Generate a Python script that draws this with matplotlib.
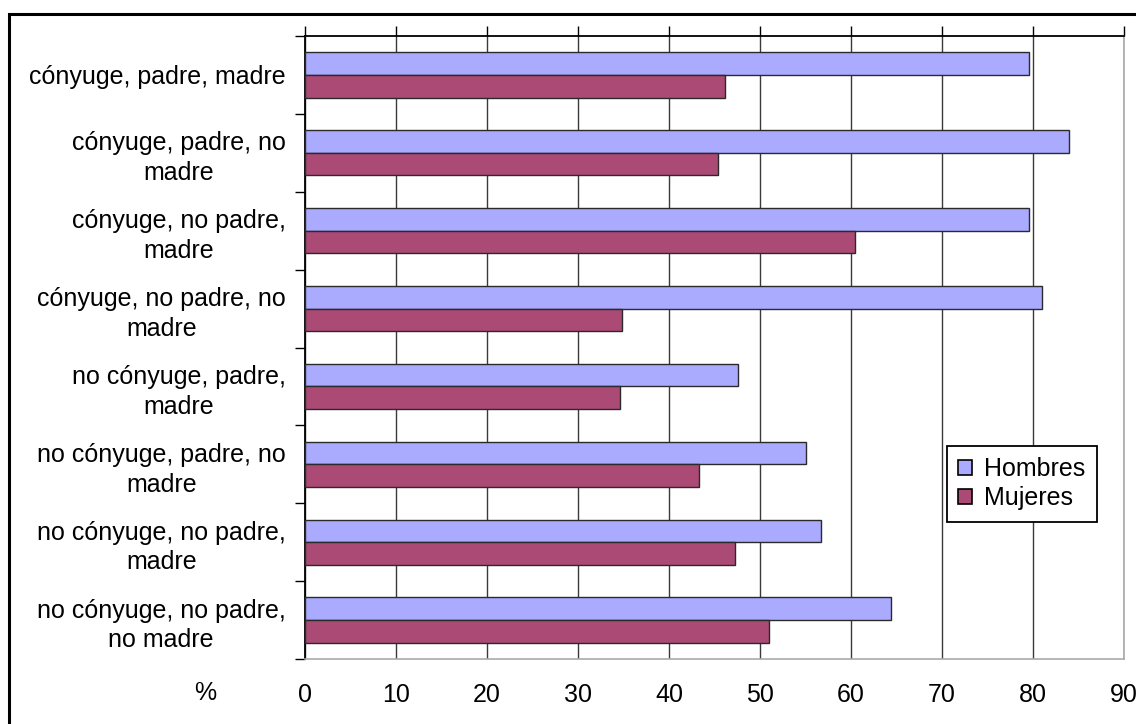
import matplotlib
matplotlib.use("Agg")
import matplotlib.pyplot as plt
import numpy as np
from matplotlib.patches import Rectangle

plt.rcParams["font.family"] = ["Liberation Sans", "DejaVu Sans"]

# categories, top to bottom
categories = [
    "cónyuge, padre, madre",
    "cónyuge, padre, no\nmadre",
    "cónyuge, no padre,\nmadre",
    "cónyuge, no padre, no\nmadre",
    "no cónyuge, padre,\nmadre",
    "no cónyuge, padre, no\nmadre",
    "no cónyuge, no padre,\nmadre",
    "no cónyuge, no padre,\nno madre",
]
hombres = [79.6, 84.0, 79.6, 81.0, 47.6, 55.1, 56.7, 64.4]
mujeres = [46.2, 45.4, 60.4, 34.8, 34.6, 43.3, 47.3, 51.0]
x_ticks = [0, 10, 20, 30, 40, 50, 60, 70, 80, 90]

C_HOM = "#AAABFE"
C_MUJ = "#AA4A75"
C_EDGE = "#2a2a2a"
FS = 18

fig = plt.figure(figsize=(11.36, 7.24), dpi=100)
ax = fig.add_axes([305 / 1136, 1 - 659 / 724, (1124 - 305) / 1136, (659 - 36) / 724])

# outer chart frame (runs off the right and bottom edges)
fig.patches.append(Rectangle((9 / 1136, -0.02), 1.05, 1 - 14 / 724 + 0.02,
                             transform=fig.transFigure, fill=False,
                             edgecolor="black", lw=2.2, zorder=10))

y = np.arange(len(categories))
bh = 0.29
ax.barh(y - bh / 2, hombres, height=bh, color=C_HOM, edgecolor=C_EDGE,
        lw=1.0, zorder=3, label="Hombres")
ax.barh(y + bh / 2, mujeres, height=bh, color=C_MUJ, edgecolor=C_EDGE,
        lw=1.0, zorder=3, label="Mujeres")

ax.set_xlim(0, 90)
ax.set_ylim(len(categories) - 0.5, -0.5)

# value axis: tick marks on top, labels below
ax.set_xticks(x_ticks)
ax.set_xticklabels([str(v) for v in x_ticks], fontsize=FS)
ax.tick_params(axis="x", top=True, bottom=False, labeltop=False,
               labelbottom=True, direction="out", length=7, width=1,
               pad=10, color="black")
ax.grid(axis="x", color="#3a3a3a", lw=1.0, zorder=1)

# category axis: labels at centres, marks on the boundaries
ax.set_yticks(y)
ax.set_yticklabels(categories, fontsize=FS, multialignment="center",
                   linespacing=1.3)
ax.tick_params(axis="y", which="major", length=0, pad=14)
ax.set_yticks(np.arange(len(categories) + 1) - 0.5, minor=True)
ax.tick_params(axis="y", which="minor", length=7, width=1, color="black",
               direction="out")

for side in ("bottom", "right"):
    ax.spines[side].set_color("#aaaaaa")
    ax.spines[side].set_linewidth(1.2)
ax.spines["top"].set_color("black")
ax.spines["left"].set_color("black")
ax.spines["top"].set_linewidth(1.3)
ax.spines["left"].set_linewidth(1.3)

fig.text(205 / 1136, 1 - 693 / 724, "%", fontsize=FS, ha="center", va="center")

leg = ax.legend(loc="upper left", bbox_to_anchor=((947 - 305) / (1124 - 305),
                (659 - 446) / (659 - 36)), fontsize=FS, frameon=True,
                fancybox=False, edgecolor="black", framealpha=1,
                handlelength=0.55, handleheight=0.55, handletextpad=0.5,
                borderpad=0.45, labelspacing=0.2, borderaxespad=0)
leg.get_frame().set_linewidth(1.3)
for h in leg.legend_handles:
    h.set_edgecolor("black")
    h.set_linewidth(1.2)

fig.savefig("out.png", dpi=100, facecolor="white")
